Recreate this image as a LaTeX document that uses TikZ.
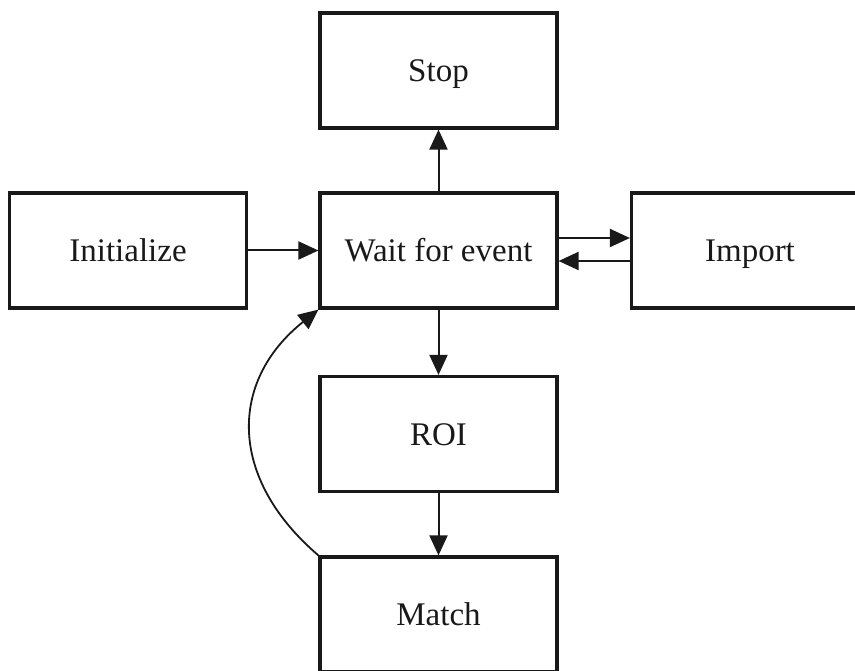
\documentclass[tikz,border=0pt]{standalone}
\usepackage{fontspec}
\setmainfont{Liberation Serif}
\usetikzlibrary{arrows.meta}
\begin{document}
\begin{tikzpicture}[x=1pt,y=-1pt,
  stepbox/.style={draw=black!90, line width=3.2pt, minimum width=237pt, minimum height=115pt,
    inner sep=0pt, text height=22pt, text depth=0pt,
    font=\fontsize{33}{38}\selectfont, text=black!90},
  flow/.style={draw=black!90, line width=2pt, -{Triangle[length=20pt,width=18pt]}}]
  \useasboundingbox (0,0) rectangle (855,671);
  \clip (0,0) rectangle (855,671);
  \node[stepbox] (stop)  at (438.5,70.5)  {Stop};
  \node[stepbox] (init)  at (128,250.5)   {Initialize};
  \node[stepbox] (wait)  at (438.5,250.5) {Wait for event};
  \node[stepbox] (import) at (750,250.5)  {Import};
  \node[stepbox] (roi)   at (438.5,434)   {ROI};
  \node[stepbox] (match) at (438.5,614.5) {Match};
  % connectors
  \draw[flow] (init.east) -- (wait.west);
  \draw[flow] (wait.north) -- (stop.south);
  \draw[flow] (wait.south) -- (roi.north);
  \draw[flow] (roi.south) -- (match.north);
  \draw[flow] ([yshift=12.5pt]wait.east) -- ([yshift=12.5pt]import.west);
  \draw[flow] ([yshift=-10.5pt]import.west) -- ([yshift=-10.5pt]wait.east);
  \draw[flow, line width=1.8pt] (match.north west) .. controls +(-90,-77) and +(-90,72) .. (wait.south west);
\end{tikzpicture}
\end{document}
